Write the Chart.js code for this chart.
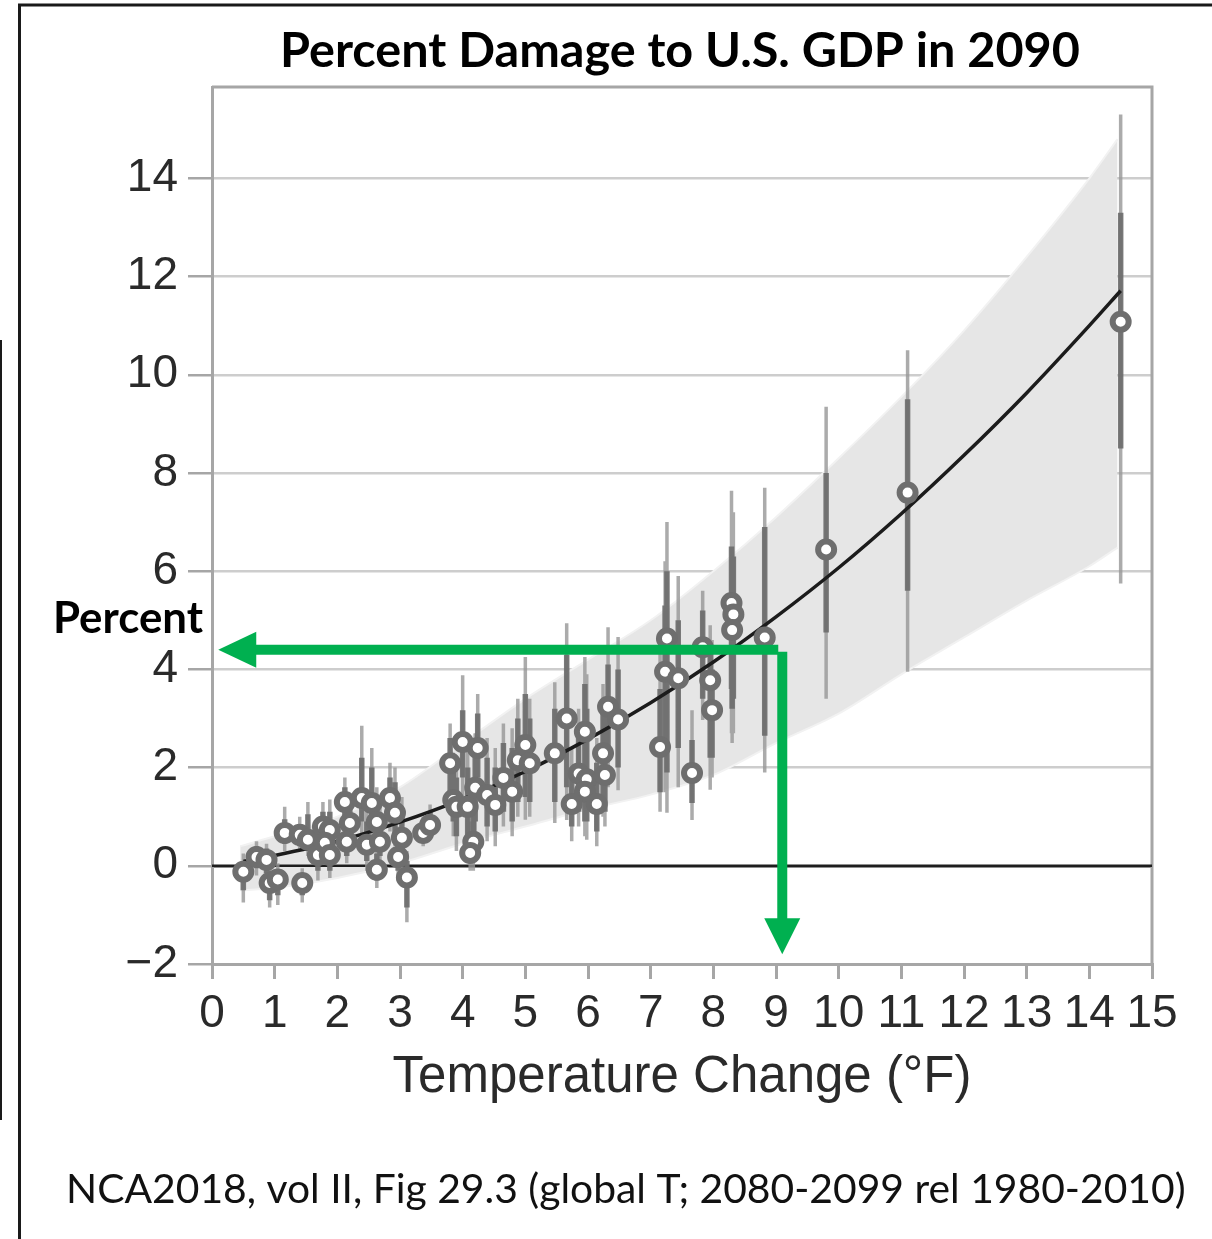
<!DOCTYPE html>
<html>
<head>
<meta charset="utf-8">
<script src="https://cdn.jsdelivr.net/npm/chart.js@4.4.1/dist/chart.umd.min.js"></script>
<style>
  html, body { margin: 0; padding: 0; background: #fff; }
  canvas { display: block; }
</style>
</head>
<body>
<canvas id="chart" width="1212" height="1239"></canvas>
<script>
// axis ticks
const xTicks = [0, 1, 2, 3, 4, 5, 6, 7, 8, 9, 10, 11, 12, 13, 14, 15];
const yTicks = [-2, 0, 2, 4, 6, 8, 10, 12, 14];

// individual estimates: temperature change (°F), damage (%), whisker ranges
const ptX = [0.5, 0.71, 0.87, 0.92, 1.05, 1.16, 1.4, 1.53, 1.44, 1.69, 1.77, 1.88, 1.8, 1.88, 2.12, 2.2, 2.15, 2.39, 2.55, 2.47,
  2.63, 2.68, 2.63, 2.84, 2.92, 3.03, 3.11, 2.97, 3.37, 3.48, 3.8, 4.0, 4.24, 3.85, 3.9, 4.08, 4.2, 4.17, 4.12, 4.39,
  4.52, 4.65, 4.79, 4.88, 5.0, 5.07, 5.47, 5.66, 5.95, 5.85, 5.98, 5.95, 5.74, 6.14, 6.24, 6.27, 6.32, 6.48, 7.15, 7.26,
  7.23, 7.44, 7.66, 7.83, 7.95, 7.98, 8.29, 8.32, 8.3, 8.82, 9.8, 11.1, 14.5];
const ptY = [-0.12, 0.18, 0.12, -0.35, -0.28, 0.67, 0.63, 0.53, -0.35, 0.22, 0.8, 0.73, 0.47, 0.22, 1.3, 0.87, 0.49, 1.38, 1.28, 0.43,
  -0.08, 0.49, 0.89, 1.38, 1.08, 0.57, -0.24, 0.18, 0.67, 0.83, 2.09, 2.52, 2.4, 1.34, 1.2, 1.2, 1.59, 0.49, 0.26, 1.44,
  1.24, 1.79, 1.51, 2.15, 2.46, 2.09, 2.29, 3.0, 2.73, 1.88, 1.76, 1.51, 1.26, 1.26, 2.29, 1.85, 3.24, 2.98, 2.42, 4.63,
  3.95, 3.82, 1.89, 4.45, 3.78, 3.17, 5.35, 5.12, 4.8, 4.65, 6.44, 7.6, 11.08];
const thinLo = [-0.75, -0.2, -0.3, -0.85, -0.8, 0.3, 0.3, 0.2, -0.75, -0.3, 0.4, 0.3, 0.1, -0.25, 0.8, 0.4, 0.05, 0.6, 0.5, -0.1,
  -0.45, 0.0, 0.3, 0.7, 0.4, -0.1, -1.15, -0.3, 0.4, 0.55, 1.2, 1.4, 1.5, 0.6, 0.3, 0.2, 0.6, -0.1, -0.1, 0.5,
  0.4, 0.8, 0.6, 1.0, 0.94, 1.0, 0.87, 0.93, 1.0, 0.8, 0.53, 0.6, 0.5, 0.4, 1.0, 0.8, 1.6, 1.54, 1.1, 1.08,
  1.5, 1.6, 0.93, 2.97, 1.55, 1.8, 2.7, 2.7, 2.5, 1.9, 3.4, 3.95, 5.75];
const thinHi = [0.25, 0.5, 0.45, 0.0, 0.05, 1.2, 1.0, 1.3, -0.05, 0.8, 1.3, 1.35, 0.9, 0.6, 1.8, 1.35, 0.9, 2.85, 2.4, 1.1,
  0.4, 1.2, 1.6, 2.1, 2.0, 1.4, 0.3, 0.8, 1.0, 1.25, 2.9, 3.88, 3.5, 2.3, 2.2, 2.5, 2.7, 1.4, 0.9, 2.6,
  2.4, 2.9, 2.8, 3.4, 4.25, 3.4, 3.74, 4.94, 4.25, 3.2, 3.9, 2.8, 2.4, 2.6, 3.7, 3.3, 4.86, 4.66, 4.5, 7.0,
  6.2, 5.9, 3.17, 5.6, 4.9, 4.6, 7.64, 7.2, 6.8, 7.7, 9.35, 10.5, 15.3];
const thickLo = [-0.5, -0.05, -0.15, -0.7, -0.6, 0.45, 0.4, 0.3, -0.6, -0.1, 0.55, 0.45, 0.25, -0.1, 1.0, 0.55, 0.2, 0.9, 0.8, 0.1,
  -0.3, 0.2, 0.5, 0.9, 0.6, 0.15, -0.85, -0.1, 0.5, 0.65, 1.5, 1.8, 1.8, 0.9, 0.6, 0.5, 0.9, 0.1, 0.05, 0.8,
  0.7, 1.1, 0.9, 1.3, 1.4, 1.3, 1.3, 1.6, 1.5, 1.1, 0.9, 0.9, 0.8, 0.7, 1.4, 1.1, 2.4, 2.0, 1.5, 1.9,
  2.3, 2.4, 1.28, 3.4, 2.2, 2.2, 3.6, 3.4, 3.2, 2.65, 4.75, 5.6, 8.5];
const thickHi = [0.1, 0.4, 0.35, -0.1, -0.1, 0.95, 0.85, 1.05, -0.15, 0.6, 1.1, 1.1, 0.75, 0.45, 1.6, 1.2, 0.75, 2.2, 2.0, 0.9,
  0.25, 0.95, 1.4, 1.8, 1.7, 1.1, 0.1, 0.6, 0.9, 1.1, 2.6, 3.17, 3.1, 2.0, 1.8, 2.0, 2.3, 1.1, 0.7, 2.2,
  2.0, 2.5, 2.4, 3.0, 3.5, 3.0, 3.2, 4.3, 3.7, 2.8, 3.2, 2.4, 2.0, 2.1, 3.2, 2.8, 4.1, 4.0, 3.6, 6.0,
  5.3, 5.0, 2.56, 5.2, 4.5, 4.0, 6.5, 6.3, 6.0, 6.9, 8.0, 9.5, 13.3];

// fitted damage curve and its shaded range
const fitX = [0.5, 1, 2, 3, 4, 5, 6, 7, 8, 9, 10, 11, 12, 13, 14, 14.5];
const fitY = [0.09, 0.21, 0.5, 0.89, 1.36, 1.92, 2.58, 3.32, 4.15, 5.07, 6.07, 7.17, 8.36, 9.63, 11.0, 11.71];
const bandX = [0.45, 1, 2, 3, 4, 5, 6, 7, 8, 9, 10, 11, 12, 13, 14, 14.45];
const bandHi = [0.4, 0.6, 1.0, 1.6, 2.5, 3.4, 4.2, 5.0, 6.0, 7.1, 8.3, 9.55, 10.9, 12.4, 14.0, 14.8];
const bandLo = [-0.5, -0.45, -0.25, 0.05, 0.45, 0.8, 1.15, 1.45, 1.85, 2.5, 3.1, 3.9, 4.65, 5.4, 6.1, 6.48];

const titleText = 'Percent Damage to U.S. GDP in 2090';
const xTitle = 'Temperature Change (°F)';
const yLabel = 'Percent';
const caption = 'NCA2018, vol II, Fig 29.3 (global T; 2080-2099 rel 1980-2010)';

const xy = (xs, ys) => xs.map((x, i) => ({ x: x, y: ys[i] }));
function whiskers(lo, hi) {
  const out = [];
  ptX.forEach((x, i) => {
    out.push({ x: x, y: lo[i] }, { x: x, y: hi[i] }, { x: x, y: null });
  });
  return out;
}

function fitSize(ctx, text, weight, family, width) {
  ctx.font = weight + ' 100px ' + family;
  return 100 * width / ctx.measureText(text).width;
}

const decor = {
  id: 'decor',
  beforeDatasetsDraw(chart) {
    const { ctx, chartArea: a } = chart;
    ctx.save();
    ctx.strokeStyle = '#a6a6a6';
    ctx.lineWidth = 3;
    ctx.beginPath();
    ctx.moveTo(a.left, a.top);
    ctx.lineTo(a.right, a.top);
    ctx.lineTo(a.right, a.bottom);
    ctx.stroke();
    ctx.restore();
  },
  afterDraw(chart) {
    const { ctx } = chart;
    const xs = chart.scales.x, ys = chart.scales.y;
    ctx.save();

    // green read-off arrows (at 9 °F)
    const green = '#00b050';
    const ax = xs.getPixelForValue(9.1), ay = ys.getPixelForValue(4.4);
    const tipX = xs.getPixelForValue(0.1), tipY = ys.getPixelForValue(-1.8);
    ctx.strokeStyle = green;
    ctx.fillStyle = green;
    ctx.lineWidth = 10;
    ctx.beginPath();
    ctx.moveTo(ax - 4, ay);
    ctx.lineTo(tipX + 34, ay);
    ctx.stroke();
    ctx.beginPath();
    ctx.moveTo(tipX, ay);
    ctx.lineTo(tipX + 38, ay - 18);
    ctx.lineTo(tipX + 38, ay + 18);
    ctx.closePath();
    ctx.fill();
    ctx.beginPath();
    ctx.moveTo(ax, ay + 2);
    ctx.lineTo(ax, tipY - 32);
    ctx.stroke();
    ctx.beginPath();
    ctx.moveTo(ax, tipY);
    ctx.lineTo(ax - 18, tipY - 36);
    ctx.lineTo(ax + 18, tipY - 36);
    ctx.closePath();
    ctx.fill();

    // texts
    ctx.fillStyle = '#000';
    ctx.textBaseline = 'alphabetic';
    ctx.textAlign = 'center';
    let s = fitSize(ctx, titleText, 'bold', 'Lato', 800);
    ctx.font = 'bold ' + s + 'px Lato';
    ctx.fillText(titleText, 680, 67);

    ctx.textAlign = 'left';
    s = fitSize(ctx, yLabel, 'bold', 'Lato', 150);
    ctx.font = 'bold ' + s + 'px Lato';
    ctx.fillText(yLabel, 53, 633);

    s = fitSize(ctx, caption, 'normal', 'Lato', 1120);
    ctx.font = 'normal ' + s + 'px Lato';
    ctx.fillStyle = '#111';
    ctx.fillText(caption, 66, 1203);

    // page frame
    ctx.strokeStyle = '#1a1a1a';
    ctx.lineWidth = 3;
    ctx.beginPath();
    ctx.moveTo(19.5, 1239);
    ctx.lineTo(19.5, 5);
    ctx.lineTo(1212, 5);
    ctx.stroke();
    ctx.lineWidth = 2;
    ctx.beginPath();
    ctx.moveTo(1, 340);
    ctx.lineTo(1, 1120);
    ctx.stroke();
    ctx.restore();
  }
};

new Chart(document.getElementById('chart'), {
  type: 'line',
  data: {
    datasets: [
      { data: xy(bandX, bandHi), borderColor: '#f2f2f2', borderWidth: 2, pointRadius: 0, fill: false,
        cubicInterpolationMode: 'monotone', order: 10 },
      { data: xy(bandX, bandLo), borderColor: '#f2f2f2', borderWidth: 2, pointRadius: 0, fill: '-1',
        backgroundColor: '#e6e6e6', cubicInterpolationMode: 'monotone', order: 10 },
      { data: xy([0, 15], [0, 0]), borderColor: '#1e1e1e', borderWidth: 2.5, pointRadius: 0, order: 9 },
      { data: whiskers(thinLo, thinHi), borderColor: 'rgba(150,150,150,0.8)', borderWidth: 3.5, pointRadius: 0,
        spanGaps: false, borderCapStyle: 'butt', order: 8 },
      { data: whiskers(thickLo, thickHi), borderColor: 'rgba(108,108,108,0.9)', borderWidth: 5.5, pointRadius: 0,
        spanGaps: false, borderCapStyle: 'butt', order: 7 },
      { data: xy(fitX, fitY), borderColor: '#1c1c1c', borderWidth: 3.5, pointRadius: 0,
        cubicInterpolationMode: 'monotone', order: 6 },
      { data: xy(ptX, ptY), showLine: false, pointRadius: 8, pointBorderWidth: 6,
        pointBorderColor: '#6e6e6e', pointBackgroundColor: '#fff', order: 1 }
    ]
  },
  options: {
    responsive: false,
    animation: false,
    layout: { padding: { left: 112, top: 87, right: 60, bottom: 130 } },
    plugins: { legend: { display: false }, tooltip: { enabled: false } },
    scales: {
      x: {
        type: 'linear', min: 0, max: 15,
        afterBuildTicks: s => { s.ticks = xTicks.map(v => ({ value: v })); },
        afterFit: s => { s.height = 145; },
        border: { color: '#a6a6a6', width: 3 },
        grid: { drawOnChartArea: false, drawTicks: true, tickLength: 15, color: '#a6a6a6', lineWidth: 3 },
        ticks: { padding: 8, color: '#2a2a2a', font: { family: 'Liberation Sans', size: 46 }, maxRotation: 0 },
        title: { display: true, text: xTitle, color: '#2a2a2a', padding: 0,
          font: { family: 'Liberation Sans', size: 51 } }
      },
      y: {
        type: 'linear', min: -2, max: 15.86,
        afterBuildTicks: s => { s.ticks = yTicks.map(v => ({ value: v })); },
        afterFit: s => { s.width = 100; },
        border: { color: '#a6a6a6', width: 3 },
        grid: { color: c => (c.tick && c.tick.value === 0 ? '#1e1e1e' : '#cdcdcd'), lineWidth: 2.5,
          tickLength: 24, tickColor: '#a6a6a6' },
        ticks: { padding: 10, color: '#2a2a2a', font: { family: 'Liberation Sans', size: 46 },
          callback: v => (v < 0 ? '\u2212' + Math.abs(v) : String(v)) }
      }
    }
  },
  plugins: [decor]
});
</script>
</body>
</html>
